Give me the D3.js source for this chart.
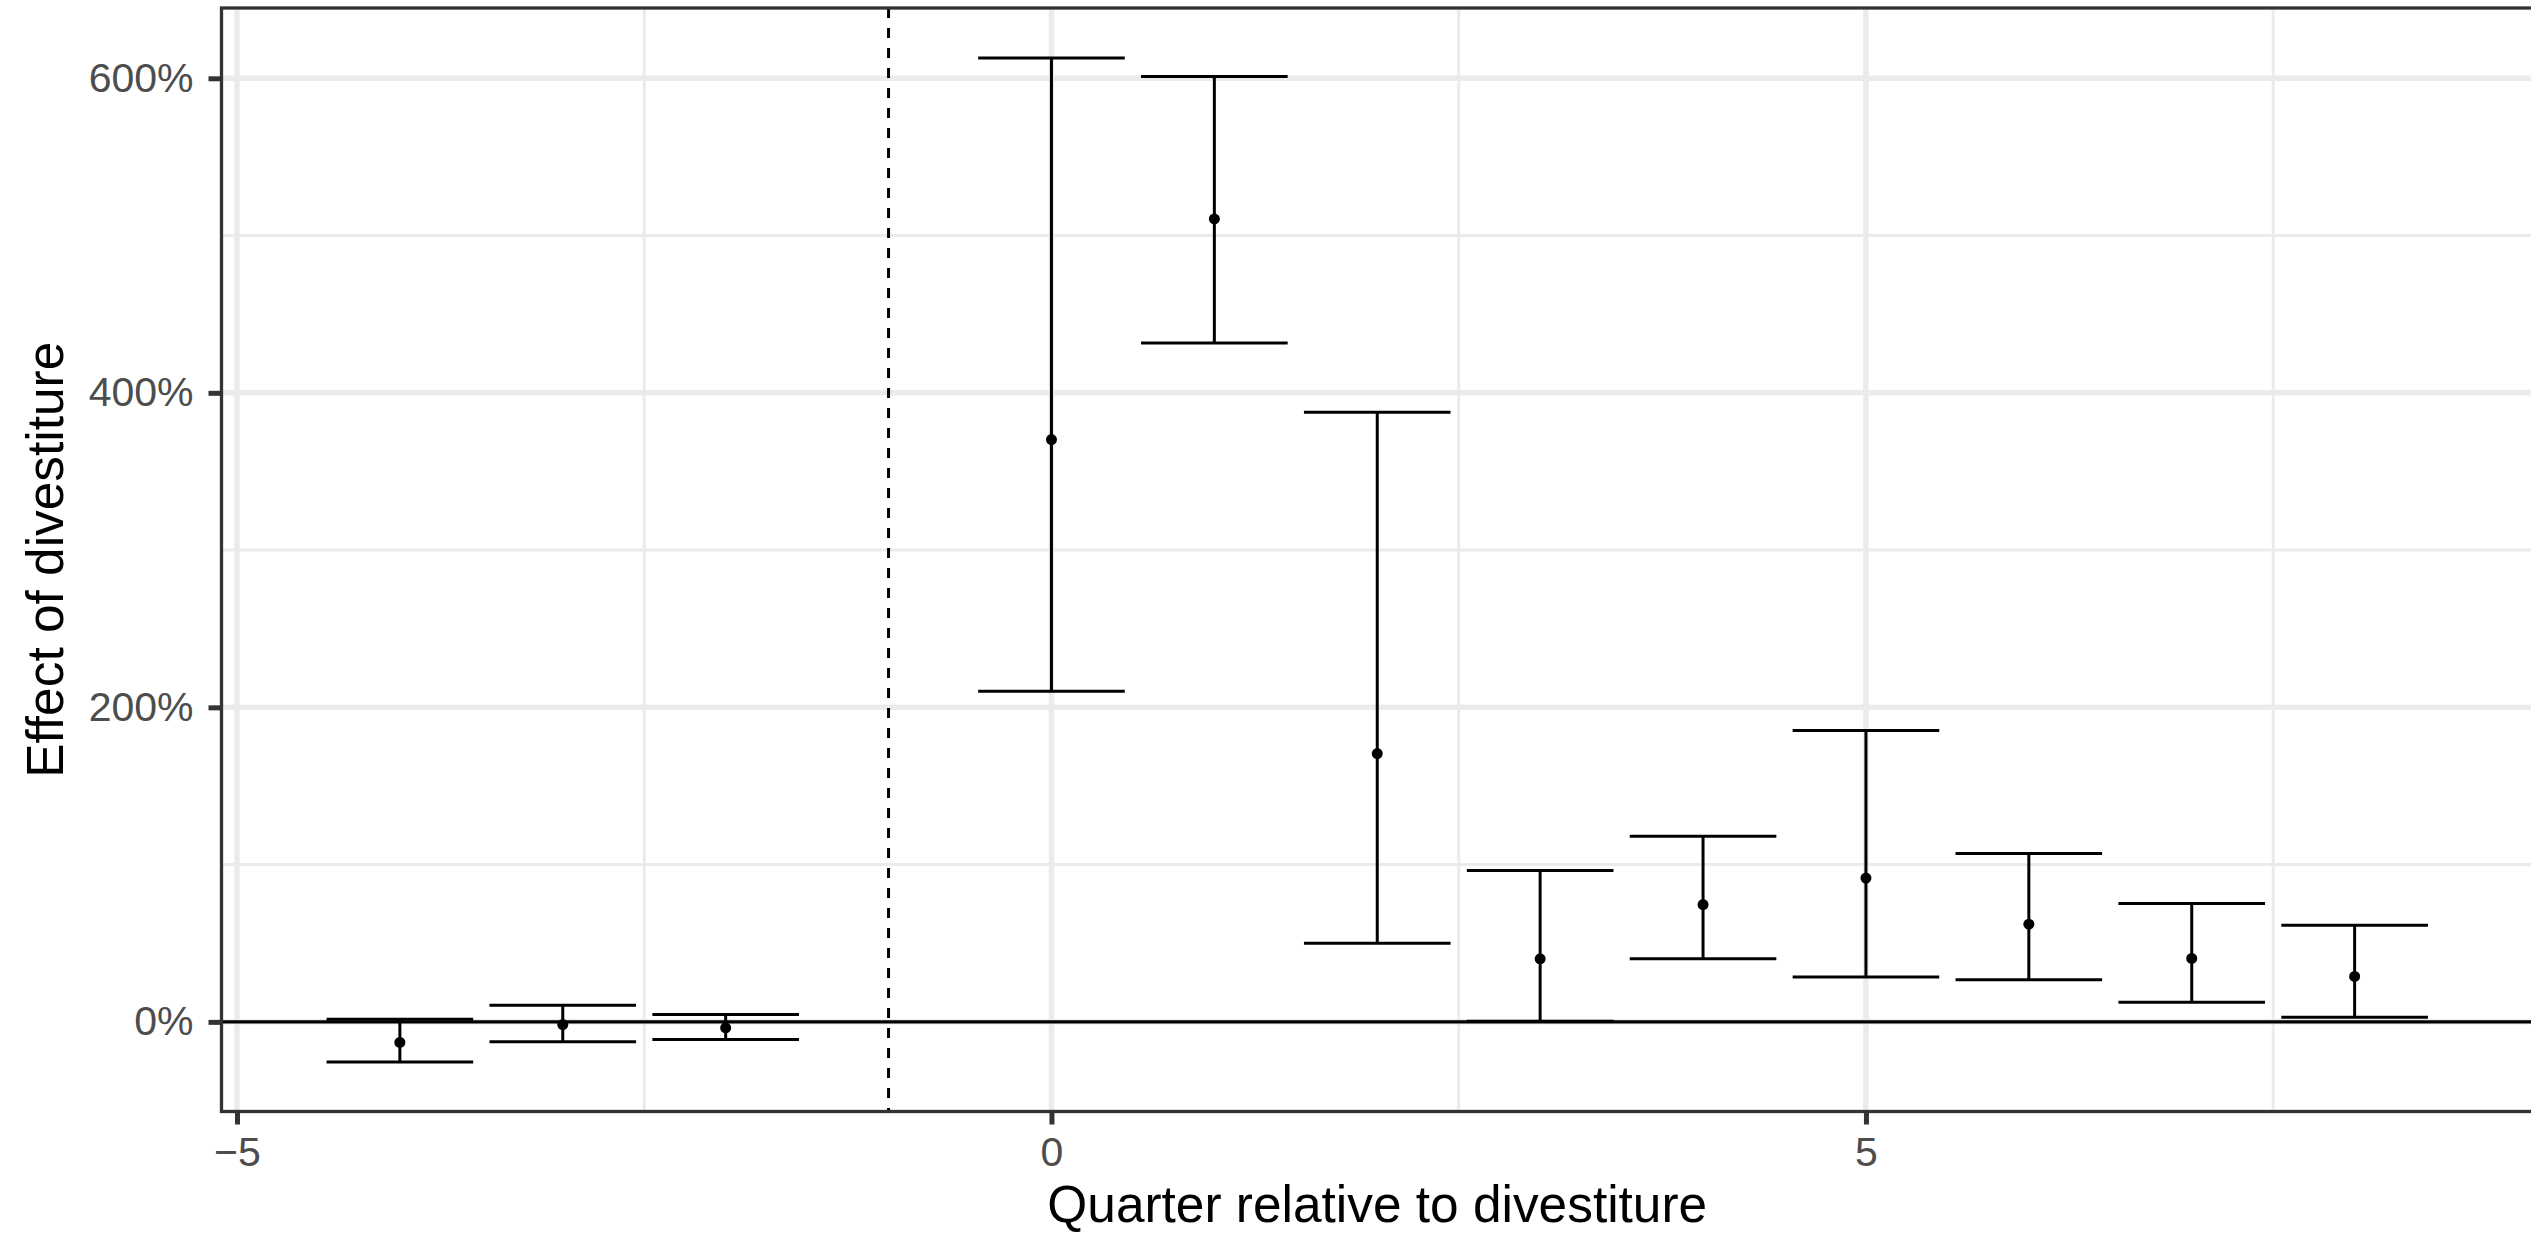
<!DOCTYPE html>
<html>
<head>
<meta charset="utf-8">
<script src="https://cdn.jsdelivr.net/npm/d3@7"></script>
<style>
    body { margin: 0; background: #fff; }
    svg { display: block; font-family: "Liberation Sans", Arial, sans-serif; }
</style>
</head>
<body>
<div id="chart"></div>
<script>
const quarters = [-4, -3, -2, 0, 1, 2, 3, 4, 5, 6, 7, 8];
const estimate = [-13.1, -1.7, -3.8, 370.3, 510.6, 170.6, 40.1, 74.6, 91.4, 62.1, 40.3, 28.9];
const lower = [-25.6, -12.7, -11.2, 210.2, 431.7, 50.0, 0.4, 40.1, 28.6, 26.7, 12.5, 3.0];
const upper = [1.7, 10.6, 4.7, 612.9, 601.1, 387.7, 96.3, 118.1, 185.3, 107.1, 75.3, 61.5];

const xMajor = [-5, 0, 5];
const xMinor = [-2.5, 2.5, 7.5];
const yMajor = [0, 200, 400, 600];
const yMinor = [100, 300, 500];
const eventLine = -1;

const width = 2531, height = 1233;
const panel = { left: 221.5, right: 2533, top: 8, bottom: 1111.5 };

const rows = quarters.map((q, i) => ({ q: q, est: estimate[i], lo: lower[i], hi: upper[i] }));

const x = d3.scaleLinear().domain([-5.095, 9.095]).range([panel.left, panel.right]);
const y = d3.scaleLinear().domain([-57, 644.7]).range([panel.bottom, panel.top]);

const svg = d3.select("#chart")
    .append("svg")
    .attr("width", width)
    .attr("height", height);

svg.append("defs").append("clipPath")
    .attr("id", "clip")
    .append("rect")
    .attr("x", panel.left)
    .attr("y", panel.top)
    .attr("width", panel.right - panel.left)
    .attr("height", panel.bottom - panel.top);

const plot = svg.append("g").attr("clip-path", "url(#clip)");

// grid
plot.append("g").selectAll("line")
    .data(yMinor)
    .enter().append("line")
    .attr("x1", panel.left).attr("x2", panel.right)
    .attr("y1", d => y(d)).attr("y2", d => y(d))
    .attr("stroke", "#ebebeb").attr("stroke-width", 3);

plot.append("g").selectAll("line")
    .data(xMinor)
    .enter().append("line")
    .attr("y1", panel.top).attr("y2", panel.bottom)
    .attr("x1", d => x(d)).attr("x2", d => x(d))
    .attr("stroke", "#ebebeb").attr("stroke-width", 3);

plot.append("g").selectAll("line")
    .data(yMajor)
    .enter().append("line")
    .attr("x1", panel.left).attr("x2", panel.right)
    .attr("y1", d => y(d)).attr("y2", d => y(d))
    .attr("stroke", "#ebebeb").attr("stroke-width", 5.5);

plot.append("g").selectAll("line")
    .data(xMajor)
    .enter().append("line")
    .attr("y1", panel.top).attr("y2", panel.bottom)
    .attr("x1", d => x(d)).attr("x2", d => x(d))
    .attr("stroke", "#ebebeb").attr("stroke-width", 5.5);

// reference lines
plot.append("line")
    .attr("x1", panel.left).attr("x2", panel.right)
    .attr("y1", y(0)).attr("y2", y(0))
    .attr("stroke", "#000").attr("stroke-width", 3.3);

plot.append("line")
    .attr("x1", x(eventLine)).attr("x2", x(eventLine))
    .attr("y1", panel.top).attr("y2", panel.bottom)
    .attr("stroke", "#000").attr("stroke-width", 3)
    .attr("stroke-dasharray", "10,10");

// error bars
const capHalf = 0.45;
const bars = plot.append("g").attr("class", "errorbars")
    .selectAll("g")
    .data(rows)
    .enter().append("g");

bars.append("line")
    .attr("x1", d => x(d.q)).attr("x2", d => x(d.q))
    .attr("y1", d => y(d.lo)).attr("y2", d => y(d.hi));
bars.append("line")
    .attr("x1", d => x(d.q - capHalf)).attr("x2", d => x(d.q + capHalf))
    .attr("y1", d => y(d.hi)).attr("y2", d => y(d.hi));
bars.append("line")
    .attr("x1", d => x(d.q - capHalf)).attr("x2", d => x(d.q + capHalf))
    .attr("y1", d => y(d.lo)).attr("y2", d => y(d.lo));
bars.selectAll("line")
    .attr("stroke", "#000").attr("stroke-width", 3);

plot.append("g").selectAll("circle")
    .data(rows)
    .enter().append("circle")
    .attr("cx", d => x(d.q))
    .attr("cy", d => y(d.est))
    .attr("r", 5.5)
    .attr("fill", "#000");

// panel border
svg.append("rect")
    .attr("x", panel.left).attr("y", panel.top)
    .attr("width", panel.right - panel.left)
    .attr("height", panel.bottom - panel.top)
    .attr("fill", "none")
    .attr("stroke", "#333").attr("stroke-width", 3.3);

// axes
const yAxis = svg.append("g")
    .attr("transform", `translate(${panel.left},0)`)
    .call(d3.axisLeft(y).tickValues(yMajor).tickSize(13).tickPadding(15).tickFormat(d => d + "%"));

const xAxis = svg.append("g")
    .attr("transform", `translate(0,${panel.bottom})`)
    .call(d3.axisBottom(x).tickValues(xMajor).tickSize(13).tickPadding(12));

[xAxis, yAxis].forEach(a => {
    a.select(".domain").remove();
    a.selectAll(".tick line").attr("stroke", "#333").attr("stroke-width", 5);
    a.selectAll(".tick text")
        .attr("fill", "#4d4d4d")
        .style("font-size", "41px")
        .style("font-family", "'Liberation Sans', Arial, sans-serif");
});

svg.append("text")
    .attr("x", (panel.left + panel.right) / 2)
    .attr("y", 1222)
    .attr("text-anchor", "middle")
    .style("font-size", "51.4px")
    .attr("fill", "#000")
    .text("Quarter relative to divestiture");

svg.append("text")
    .attr("transform", `translate(63,${(panel.top + panel.bottom) / 2}) rotate(-90)`)
    .attr("text-anchor", "middle")
    .style("font-size", "51.4px")
    .attr("fill", "#000")
    .text("Effect of divestiture");
</script>
</body>
</html>
